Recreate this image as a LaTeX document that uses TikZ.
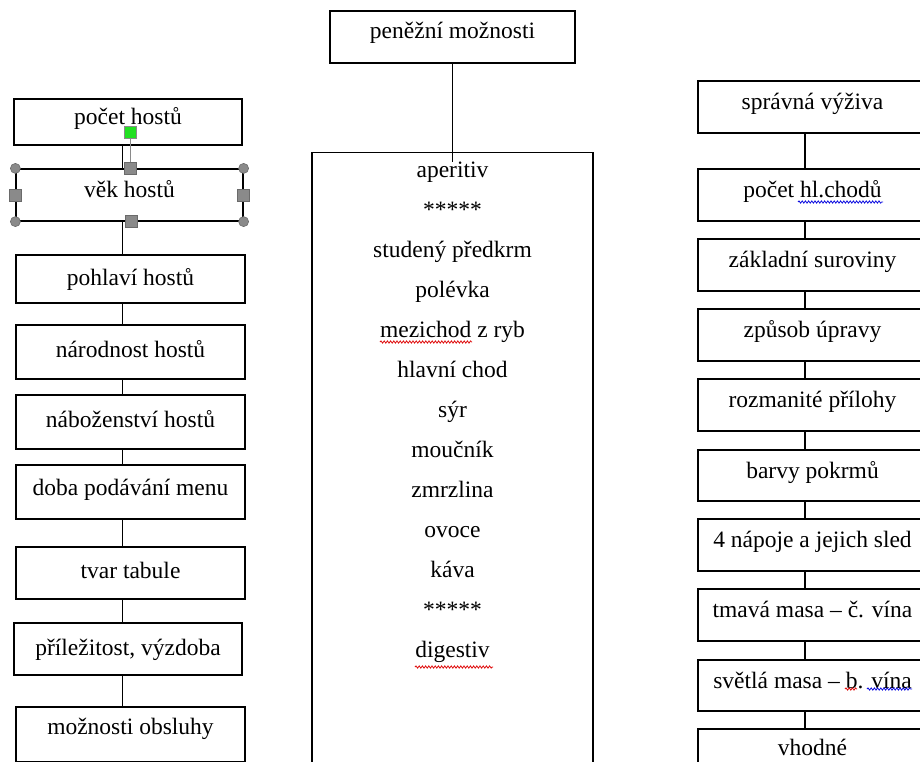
\documentclass[tikz,border=0pt]{standalone}
\usepackage{fontspec}
\setmainfont{Liberation Serif}
\usetikzlibrary{decorations.pathmorphing}
\definecolor{hgray}{HTML}{8A8A8A}
\definecolor{hgraydark}{HTML}{6A6A6A}
\definecolor{hgreen}{HTML}{22E022}
\definecolor{sqred}{HTML}{E01010}
\definecolor{sqblue}{HTML}{1010E0}
\begin{document}
\begin{tikzpicture}[x=1pt,y=-1pt,
  box/.style={draw, line width=1.2pt, rectangle, inner sep=0pt,
    font=\fontsize{23.5}{28}\selectfont, text depth=7pt},
  lbox/.style={box, text height=17pt, minimum width=229pt, minimum height=54pt},
  rbox/.style={box, text height=12pt, minimum width=229pt, minimum height=52pt},
  tbox/.style={box, text height=9pt},
  zbox/.style={box, text height=7pt},
  conn/.style={line width=1.2pt},
  menutext/.style={font=\fontsize{23.5}{28}\selectfont, anchor=base, inner sep=0pt},
  handlec/.style={circle, fill=hgray, draw=hgraydark, line width=0.6pt, minimum size=10pt, inner sep=0pt},
  handles/.style={rectangle, fill=hgray, draw=hgraydark, line width=0.6pt, minimum size=12pt, inner sep=0pt},
  squig/.style={decorate, decoration={snake, amplitude=1.1pt, segment length=3.2pt}, line width=0.8pt},
]
\clip (0,0) rectangle (920,761);
\fill[white] (0,0) rectangle (920,761);

% ---------- left column ----------
\coordinate (lx) at (122.5,0);
\node[lbox, text height=12pt, minimum width=228pt, minimum height=46pt] (l1) at (128,122) {počet hostů};
\node[lbox, text height=12pt, minimum width=227pt, minimum height=52pt] (l2) at (129.5,195) {věk hostů};
\node[lbox, text height=20pt, minimum height=48pt] (l3) at (130.5,279) {pohlaví hostů};
\node[lbox] (l4) at (130.5,352) {národnost hostů};
\node[lbox] (l5) at (130.5,422) {náboženství hostů};
\node[lbox, text height=13pt] (l6) at (130.5,492) {doba podávání menu};
\node[lbox, minimum height=52pt] (l7) at (130.5,573) {tvar tabule};
\node[lbox, text height=19pt, minimum width=228pt, minimum height=52pt] (l8) at (128,649) {příležitost, výzdoba};
\node[zbox, minimum width=229pt, minimum height=55pt] (l9) at (130.5,734.5) {možnosti obsluhy};
\foreach \a/\b in {l1/l2, l2/l3, l3/l4, l4/l5, l5/l6, l6/l7, l7/l8, l8/l9}
  \draw[conn] (\a.south -| lx) -- (\b.north -| lx);

% selection handles on "věk hostů"
\draw[hgray, line width=0.8pt] (l2.north -| 130,0) -- (130,137);
\node[rectangle, fill=hgreen, draw=hgray, line width=0.6pt, minimum size=12pt, inner sep=0pt] (rot) at (130,132) {};
\node[handlec] (hnw) at (l2.north west) {};
\node[handlec] (hne) at (l2.north east) {};
\node[handlec] (hsw) at (l2.south west) {};
\node[handlec] (hse) at (l2.south east) {};
\node[handles] (hn) at (l2.north -| 130,0) {};
\node[handles] (hs) at (l2.south -| 131,0) {};
\node[handles] (hw) at (l2.west) {};
\node[handles] (he) at (l2.east) {};

% ---------- middle column ----------
\node[tbox, minimum width=245pt, minimum height=52pt] (top) at (452.5,37) {peněžní možnosti};
\node[draw, line width=1.2pt, minimum width=281pt, minimum height=700pt, anchor=north, inner sep=0pt] (menubox) at (452.5,152) {};
\coordinate (mend) at (452.5,162);
\draw[conn] (top.south) -- (mend);
\foreach \t [count=\i from 0] in {aperitiv, *****, studený předkrm, polévka, mezichod z ryb, hlavní chod, sýr, moučník, zmrzlina, ovoce, káva, *****, digestiv}
  \node[menutext] (m\i) at (452.5,{177+40*\i}) {\t};

% ---------- right column ----------
\coordinate (rx) at (805,0);
\node[rbox] (r1) at (812.5,107) {správná výživa};
\node[rbox] (r2) at (812.5,195) {počet hl.chodů};
\node[rbox] (r3) at (812.5,265) {základní suroviny};
\node[rbox] (r4) at (812.5,335) {způsob úpravy};
\node[rbox] (r5) at (812.5,405) {rozmanité přílohy};
\node[rbox, minimum height=51pt] (r6) at (812.5,475.5) {barvy pokrmů};
\node[rbox] (r7) at (812.5,545) {4 nápoje a jejich sled};
\node[rbox] (r8) at (812.5,615) {tmavá masa – č. vína};
\node[rbox, minimum height=51pt] (r9) at (812.5,685.5) {světlá masa – b. vína};
\node[zbox, minimum width=229pt, minimum height=52pt] (r10) at (812.5,755) {vhodné};
\foreach \a/\b in {r1/r2, r2/r3, r3/r4, r4/r5, r5/r6, r6/r7, r7/r8, r8/r9, r9/r10}
  \draw[conn] (\a.south -| rx) -- (\b.north -| rx);

% ---------- spell-check squiggles ----------
\draw[squig, sqred] (380,342) -- (472,342);
\draw[squig, sqred] (415,667) -- (493,667);
\draw[squig, sqblue] (798,202) -- (883,202);
\draw[squig, sqred] (845,689) -- (857,689);
\draw[squig, sqblue] (867,689) -- (912,689);
\end{tikzpicture}
\end{document}
